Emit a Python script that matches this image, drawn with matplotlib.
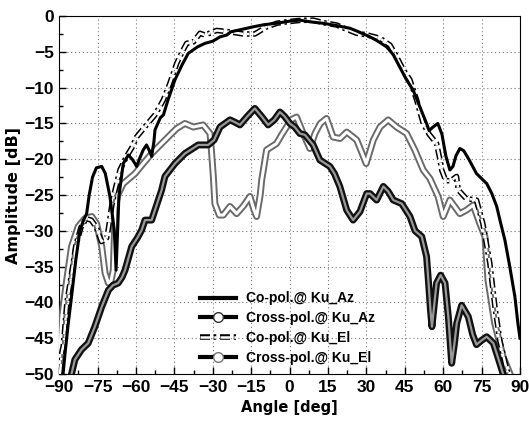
import matplotlib
matplotlib.use('Agg')
import matplotlib.pyplot as plt
import matplotlib.patheffects as pe
from matplotlib.lines import Line2D

# Co-pol @ Ku_Az (solid)
co_az_ang = [-88.5, -87.7, -86.5, -85.2, -83.5, -81.9, -80.5, -79.3, -78.3, -77, -75.5, -73.4, -72, -70.2,
             -68.5, -67.8, -67.2, -66.7, -65, -63, -61.5, -60.4, -59.8, -58.5, -57.2, -55.9, -54.8, -53.9,
             -53, -52.6, -50.5, -49.3, -47.5, -44.8, -42, -39.6, -36, -33, -30, -27.2, -24.6, -23, -18,
             -14.3, -10, -5.1, 0, 4, 8, 13, 18, 23.6, 27, 31.4, 34, 37.9, 40.5, 43, 45.5, 48.2, 50.9, 53.5,
             54.5, 56, 57.9, 59.5, 61, 62.6, 63.8, 65, 66.5, 68, 70, 73, 77, 79, 80.9, 82.5, 84.1, 86, 88,
             89.2, 90]
co_az_db = [-50, -47, -43, -39.2, -34, -29.9, -28.5, -27.6, -25, -22.5, -21.2, -21, -22, -25.2,
            -29.9, -35.5, -30, -25.2, -20.6, -19.4, -20, -20.6, -21, -19.8, -18.7, -18, -18.8, -19.6,
            -17.5, -15.9, -14.2, -13.8, -11.7, -8.9, -6.8, -5.2, -4.3, -3.8, -3.5, -2.9, -2.65, -2.2, -1.8,
            -1.5, -1.2, -1.0, -0.7, -0.56, -0.8, -1.0, -1.3, -1.7, -2.2, -2.9, -3.4, -4.3, -5.4, -7.1, -8.8,
            -10.3, -12.7, -15, -16, -15.5, -15, -16.5, -19.5, -21.5, -21, -19.5, -18.5, -18.8, -20, -22,
            -23.4, -24.8, -26.6, -29, -31.3, -35, -39.2, -43, -45]

# Cross-pol @ Ku_Az
cx_az_ang = [-85.2, -83.9, -81.3, -78.7, -76.1, -73.4, -70.8, -69, -67, -65.5, -64.3, -61.7, -59.5, -57.8,
             -56.5, -53.9, -52.6, -50, -48.7, -44.8, -40.9, -35.7, -31.8, -29.5, -27.2, -23.3, -21.5, -19.4,
             -16.5, -13.6, -11, -8.4, -6, -3.8, -2, 0.1, 2, 4, 6, 9.2, 11.8, 15.7, 17.5, 19.6, 22.3, 24.8,
             27.5, 30.1, 31.4, 34, 36.6, 38.5, 40.5, 43.8, 47, 49, 51.6, 53.5, 54.2, 55, 55.6, 56.3, 57.4,
             59, 60.7, 62, 63.3, 64.3, 65.3, 67.2, 69.8, 71.5, 73, 75, 77, 79.6, 82.1, 83.4]
cx_az_db = [-50, -48, -46.6, -45.7, -43.4, -40.6, -38.3, -37.6, -37.3, -36.5, -35.5, -32.2, -31, -29.9,
            -28.5, -28.5, -27.1, -24.3, -22.4, -20.6, -19.2, -18, -18, -17.3, -15.5, -14.5, -14.8, -15.2,
            -14, -12.9, -14, -15.2, -14.5, -13.4, -14, -15, -15.5, -16.4, -16.6, -18, -20.1, -21, -22,
            -23.8, -27.1, -28.5, -27.3, -24.8, -24.8, -25.7, -23.8, -24.5, -25.7, -26.2, -28, -30, -30.8,
            -33.6, -36.9, -41, -43.4, -41, -37.3, -36.2, -37.3, -42, -48.5, -46, -42.9, -40.4, -42, -44.5,
            -45.9, -45.3, -44.8, -45.7, -48.5, -50]

# Co-pol @ Ku_El
co_el_ang = [-89.7, -89, -88.4, -87, -85.2, -83.5, -81.5, -79.5, -77.5, -75.5, -73.5, -71.5, -70.8, -69.5,
             -68.2, -66.3, -63.7, -61.5, -59.8, -55.9, -52.6, -49.3, -46.8, -44.1, -42, -40.2, -37.6, -35,
             -33.1, -28.5, -23.3, -18.1, -13.6, -9, -5, -1.2, 4, 9.2, 13, 18.4, 22, 26.2, 30, 35.3, 39.2,
             41.5, 44.4, 47, 49.6, 52.2, 54.5, 57.4, 58.7, 59.4, 61, 63, 65.2, 65.9, 69, 73, 75.5, 78.2,
             80.2, 82.1, 84.8, 85.5]
co_el_db = [-50, -47, -46, -40, -36, -32, -29.5, -28.3, -28.5, -29.5, -31.5, -31, -29.7, -26.5,
            -24.3, -21.5, -19.6, -18.3, -16.9, -15.2, -13.8, -11.7, -9.4, -6.6, -5.0, -3.8, -3.6, -2.4,
            -2.65, -2.0, -2.2, -2.5, -2.5, -1.5, -1.0, -0.8, -0.6, -0.56, -0.9, -1.25, -1.8, -2.4, -2.6,
            -3.1, -4.05, -5.5, -7.5, -8.9, -11.7, -15, -16.5, -17.8, -20, -21.5, -23, -23, -22.4, -24.3,
            -25.5, -25.7, -29, -34.5, -40.6, -45.3, -49.4, -50]

# Cross-pol @ Ku_El
cx_el_ang = [-90, -89.7, -89, -87.1, -85.2, -82.6, -80, -77.3, -75.4, -73.4, -72.1, -70.8, -69.8, -68.9,
             -68.4, -68.2, -66.9, -65, -60.4, -57.2, -53.9, -50, -46.1, -44.1, -40.9, -37.6, -33.8, -31.1,
             -30.5, -29.8, -29.2, -27.5, -25.9, -23.3, -20.7, -18, -15.5, -14, -12.9, -11.5, -10.9, -9,
             -5.1, -3, -1.2, 0.5, 2.7, 5.3, 7.9, 9.9, 12, 14.4, 17, 19.7, 22.3, 26.2, 28.8, 29.9, 32.7,
             35.3, 38.5, 41.8, 45.7, 48.9, 52.2, 54.8, 58, 60, 62.6, 66.5, 69.1, 71.7, 74.3, 76.3, 77.5,
             80.1, 83.4, 86]
cx_el_db = [-49, -46.6, -42, -36.9, -32.2, -29.4, -28.3, -28, -29, -32.2, -35.9, -37.3, -37, -35.5,
            -30, -26.6, -24.8, -23.4, -22, -20.6, -19.2, -17.8, -16.4, -15.7, -15, -15.5, -15.2, -16.4,
            -19, -22.4, -26.2, -27.8, -27.8, -26.6, -27.6, -26.5, -25.2, -27, -28, -25, -22.9, -18.7,
            -17.8, -16.5, -15.5, -14.5, -14.1, -16.4, -18.5, -16.4, -15, -14.3, -16.9, -17.1, -16.2,
            -17.3, -19.6, -20.6, -17.3, -15.5, -14.5, -15.5, -16.4, -18.7, -21.5, -22.7, -25.2, -28,
            -25.7, -27.6, -27.1, -26.4, -29, -30.8, -36.9, -42.9, -47.6, -49.9]

labels = ['Co-pol.@ Ku_Az', 'Cross-pol.@ Ku_Az', 'Co-pol.@ Ku_El', 'Cross-pol.@ Ku_El']

fig = plt.figure(figsize=(5.29, 4.24), dpi=100)
ax = fig.add_axes([0.112, 0.118, 0.871, 0.844])

dashdot = (0, (4, 1.5, 1, 1.5))

az_fx = [pe.Stroke(linewidth=5, foreground='#111111'), pe.Normal()]
el_fx = [pe.Stroke(linewidth=5, foreground='#6a6a6a'), pe.Normal()]
coel_fx = [pe.Stroke(linewidth=4, foreground='black'), pe.Normal()]

ax.plot(cx_el_ang, cx_el_db, color='white', lw=2.2, path_effects=el_fx, zorder=3)
ax.plot(cx_az_ang, cx_az_db, color='#999999', lw=1.6, path_effects=az_fx, zorder=4)
ax.plot(co_el_ang, co_el_db, color='white', lw=1.8, linestyle=dashdot, path_effects=coel_fx, zorder=5)
ax.plot(co_az_ang, co_az_db, color='black', lw=2.2, zorder=6)

ax.set_xlim(-90, 90)
ax.set_ylim(-50, 0)
ax.set_xticks(range(-90, 91, 15))
ax.set_yticks(range(-50, 1, 5))
ax.set_xticks([x + 7.5 for x in range(-90, 90, 15)], minor=True)
ax.set_yticks([y + 2.5 for y in range(-50, 0, 5)], minor=True)
ax.tick_params(which='both', direction='in', width=1)
ax.tick_params(which='major', length=5, labelsize=12.5, pad=4)
ax.tick_params(which='minor', length=3)
for lab in ax.get_xticklabels() + ax.get_yticklabels():
    lab.set_fontfamily('Liberation Sans')
    lab.set_fontweight('bold')
ax.grid(True, which='major', linestyle=(0, (1, 2.5)), color='#777777', lw=0.8)

ax.set_xlabel('Angle [deg]', fontsize=10.5, fontweight='bold', family='DejaVu Sans', labelpad=4)
ax.set_ylabel('Amplitude [dB]', fontsize=11.5, fontweight='bold', family='DejaVu Sans', labelpad=2)

h1 = Line2D([], [], color='black', lw=3)
h2 = Line2D([], [], color='black', lw=3, marker='o', markersize=7, markerfacecolor='white',
            markeredgecolor='#333333', markevery=[1])
h3 = Line2D([], [], color='white', lw=1.8, linestyle=dashdot,
            path_effects=[pe.Stroke(linewidth=4, foreground='black'), pe.Normal()])
h4 = Line2D([], [], color='black', lw=3, marker='o', markersize=7, markerfacecolor='white',
            markeredgecolor='#777777', markevery=[1])
leg = ax.legend([h1, h2, h3, h4], labels, loc='upper left', bbox_to_anchor=(0.29, 0.25),
                frameon=False, handlelength=2.6, handletextpad=0.7, labelspacing=0.42,
                borderpad=0, prop={'family': 'Liberation Sans', 'weight': 'bold', 'size': 10})
leg.set_zorder(10)

fig.savefig('out.png', dpi=100)
